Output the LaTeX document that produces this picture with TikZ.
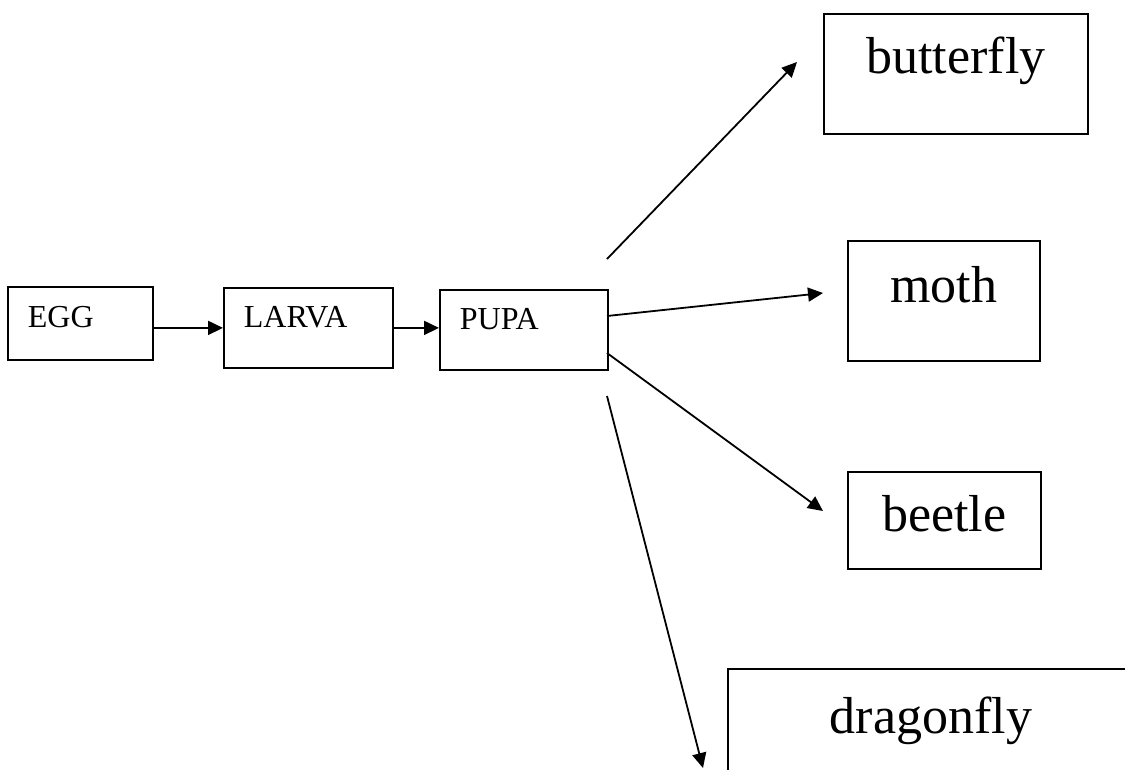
\documentclass[tikz,border=0pt]{standalone}
\usepackage{fontspec}
\setmainfont{Liberation Serif}
\usetikzlibrary{arrows,shapes,arrows.meta}
\newcommand{\stagetext}{\fontsize{32}{38}\selectfont}
\newcommand{\insecttext}{\fontsize{52}{60}\selectfont}
\tikzset{stagebox/.style={draw,line width=1.8pt,anchor=north west,inner xsep=20pt,inner ysep=0pt,align=left,font=\stagetext}}
\tikzset{insectbox/.style={draw,line width=1.8pt,anchor=north west,inner xsep=20pt,inner ysep=0pt,align=center,font=\insecttext}}
\tikzset{growarrow/.style={-{Triangle[length=15pt,width=14pt]},line width=1.8pt}}

\begin{document}
\begin{tikzpicture}[x=1pt,y=-1pt]

	\clip (0,0) rectangle (1125,769);
	\node[stagebox,text width=105pt,text height=41pt,text depth=32pt] (egg) at (7,286) {EGG};
	\node[stagebox,text width=129pt,text height=40pt,text depth=40pt] (larva) at (223,287) {LARVA};
	\node[stagebox,text width=128pt,text height=40pt,text depth=40pt] (pupa) at (439,289) {PUPA};
	\node[insectbox,text width=224pt,text height=60pt,text depth=60pt] (butterfly) at (823,13) {butterfly};
	\node[insectbox,text width=152pt,text height=62pt,text depth=58pt] (moth) at (847,240) {moth};
	\node[insectbox,text width=153pt,text height=60pt,text depth=37pt] (beetle) at (847,471) {beetle};
	\node[insectbox,text width=366pt,text height=65pt,text depth=80pt] (dragonfly) at (727,668) {dragonfly};

	\coordinate (fromUp) at (607,259);
	\coordinate (fromMid) at (607,316);
	\coordinate (fromLow) at (607,353);
	\coordinate (fromDown) at (607,396);
	\coordinate (toButterfly) at (797,62);
	\coordinate (toMoth) at (823,293);
	\coordinate (toBeetle) at (823,511);
	\coordinate (toDragonfly) at (703,768);

	\draw[growarrow] (egg.base east) -- (larva.base west);
	\draw[growarrow] (larva.base east) -- (larva.base east -| pupa.west);
	\draw[growarrow] (fromUp) -- (toButterfly);
	\draw[growarrow] (fromMid) -- (toMoth);
	\draw[growarrow] (fromLow) -- (toBeetle);
	\draw[growarrow] (fromDown) -- (toDragonfly);
\end{tikzpicture}
\end{document}
